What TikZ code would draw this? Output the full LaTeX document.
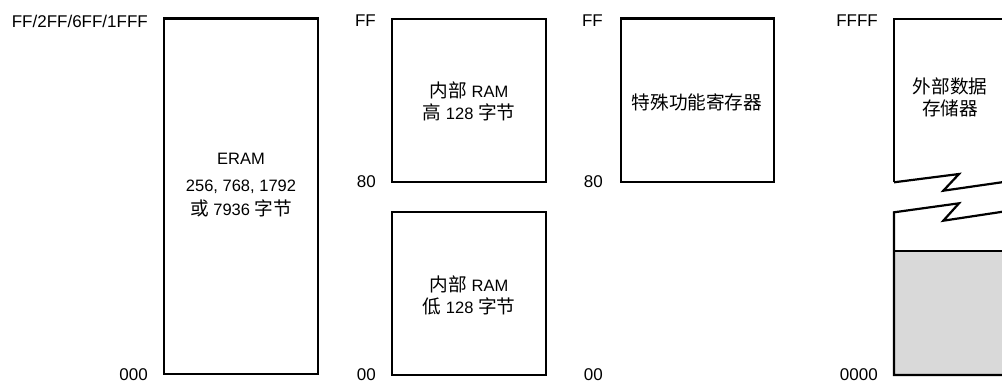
\documentclass[tikz,border=0pt]{standalone}
\usepackage{fontspec}
\setmainfont{Liberation Sans}
\newfontfamily\cjk[Scale=1.13]{Noto Sans CJK SC}
\definecolor{memgray}{HTML}{D9D9D9}
\tikzset{
  membox/.style={draw=black, line width=2.2pt, fill=white, inner sep=0pt, outer sep=0pt},
  addr/.style={anchor=east, inner sep=0pt, font=\fontsize{17}{19}\selectfont},
  intext/.style={inner sep=0pt, align=center, font=\fontsize{16.5}{22}\selectfont},
  edge/.style={draw=black, line width=2.2pt}
}
\begin{document}
\begin{tikzpicture}[x=1pt,y=-1pt]
\useasboundingbox (0,0) rectangle (1002,383);
\clip (0,0) rectangle (1002,383);
% ERAM
\node[membox, minimum width=154pt, minimum height=355.5pt] (eram) at (241,196.25) {};
\node[intext] (eramA) at (241,159) {ERAM};
\node[intext] (eramB) at (241,187) {256, 768, 1792};
\node[intext] (eramC) at (241,208) {{\cjk 或} 7936 {\cjk 字节}};
\node[addr] (a1top) at (148,21) {FF/2FF/6FF/1FFF};
\node[addr] (a1bot) at (148,375) {000};
% internal RAM high
\node[membox, minimum width=154pt, minimum height=163.3pt] (ramhi) at (469,100.35) {};
\node[intext] (ramhiT) at (469,101) {{\cjk 内部} RAM\\{\cjk 高} 128 {\cjk 字节}};
% internal RAM low
\node[membox, minimum width=154pt, minimum height=163pt] (ramlo) at (469,293.5) {};
\node[intext] (ramloT) at (469,295) {{\cjk 内部} RAM\\{\cjk 低} 128 {\cjk 字节}};
\node[addr] (a2top) at (376,21) {FF};
\node[addr] (a2mid) at (376,182) {80};
\node[addr] (a2bot) at (376,375) {00};
% SFR
\node[membox, minimum width=153pt, minimum height=163.5pt] (sfr) at (697.5,100.25) {};
\node[intext] (sfrT) at (697,102) {{\cjk 特殊功能寄存器}};
\node[addr] (a3top) at (603,21) {FF};
\node[addr] (a3mid) at (603,182) {80};
\node[addr] (a3bot) at (603,375) {00};
% external data memory
\coordinate (xtl) at (894,18.7);
\coordinate (xbl) at (894,375);
\fill[memgray] (894,250.7) rectangle (1012,375);
\draw[edge] (894,182.3) -- (xtl) -- (1012,18.7);
\draw[edge] (894,182.3) -- (959,174) -- (943.3,190.7) -- (1012,180.8);
\draw[edge] (1012,210.3) -- (943.3,220.7) -- (959,203.3) -- (894,212.3) -- (xbl) -- (1012,375);
\draw[edge] (894,250.7) -- (1012,250.7);
\node[intext] (extT) at (950,97.5) {{\cjk 外部数据}\\{\cjk 存储器}};
\node[addr] (a4top) at (878,21) {FFFF};
\node[addr] (a4bot) at (878,375) {0000};
\end{tikzpicture}
\end{document}
